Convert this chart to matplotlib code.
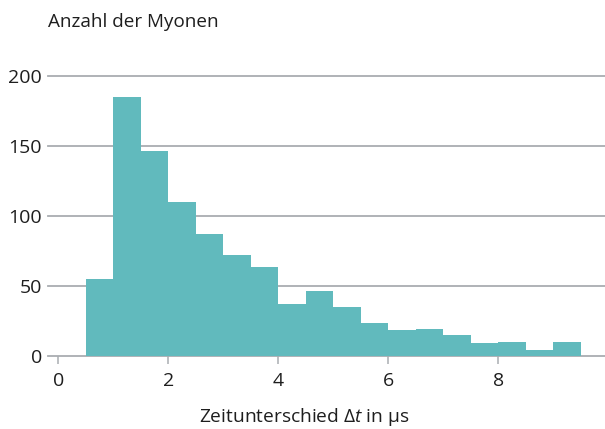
import numpy as np
import matplotlib
matplotlib.use("Agg")
import matplotlib.pyplot as plt

plt.rcParams['font.family'] = ['Open Sans', 'DejaVu Sans']
plt.rcParams['mathtext.fontset'] = 'custom'
plt.rcParams['mathtext.it'] = 'Open Sans:italic'
plt.rcParams['mathtext.rm'] = 'Open Sans'

# bin edges in microseconds, counts per bin
bin_edges = np.arange(0.5, 9.51, 0.5)
counts = [55, 185, 146, 110, 87, 72, 63, 37, 46, 35, 23, 18, 19, 15, 9, 10, 4, 10]
x_ticks = [0, 2, 4, 6, 8]
y_ticks = [0, 50, 100, 150, 200]

bar_color = '#61babd'
grid_color = '#a9adb1'
text_color = '#1e1e1e'

fig = plt.figure(figsize=(6.05, 4.29), dpi=100)
ax = fig.add_axes([0.0788, 0.1709, 0.9212, 0.6853])

ax.bar(bin_edges[:-1], counts, width=0.5, align='edge', color=bar_color,
       linewidth=0, zorder=2)

ax.set_xlim(-0.19, 9.94)
ax.set_ylim(0, 210)
ax.set_xticks(x_ticks)
ax.set_yticks(y_ticks)

for y in y_ticks:
    ax.axhline(y, color=grid_color, linewidth=1.3, zorder=1, clip_on=False)

for s in ax.spines.values():
    s.set_visible(False)

ax.tick_params(axis='y', length=0, pad=4, labelsize=14, labelcolor=text_color)
ax.tick_params(axis='x', length=6, width=1.1, color=grid_color, pad=5.5,
               labelsize=14, labelcolor=text_color)

fig.text(0.079, 0.938, 'Anzahl der Myonen', fontsize=13.6, color=text_color,
         ha='left', va='baseline')
fig.text(0.503, 0.016, 'Zeitunterschied Δ$t$ in µs', fontsize=13.8,
         color=text_color, ha='center', va='baseline')

fig.savefig('out.png', dpi=100)
